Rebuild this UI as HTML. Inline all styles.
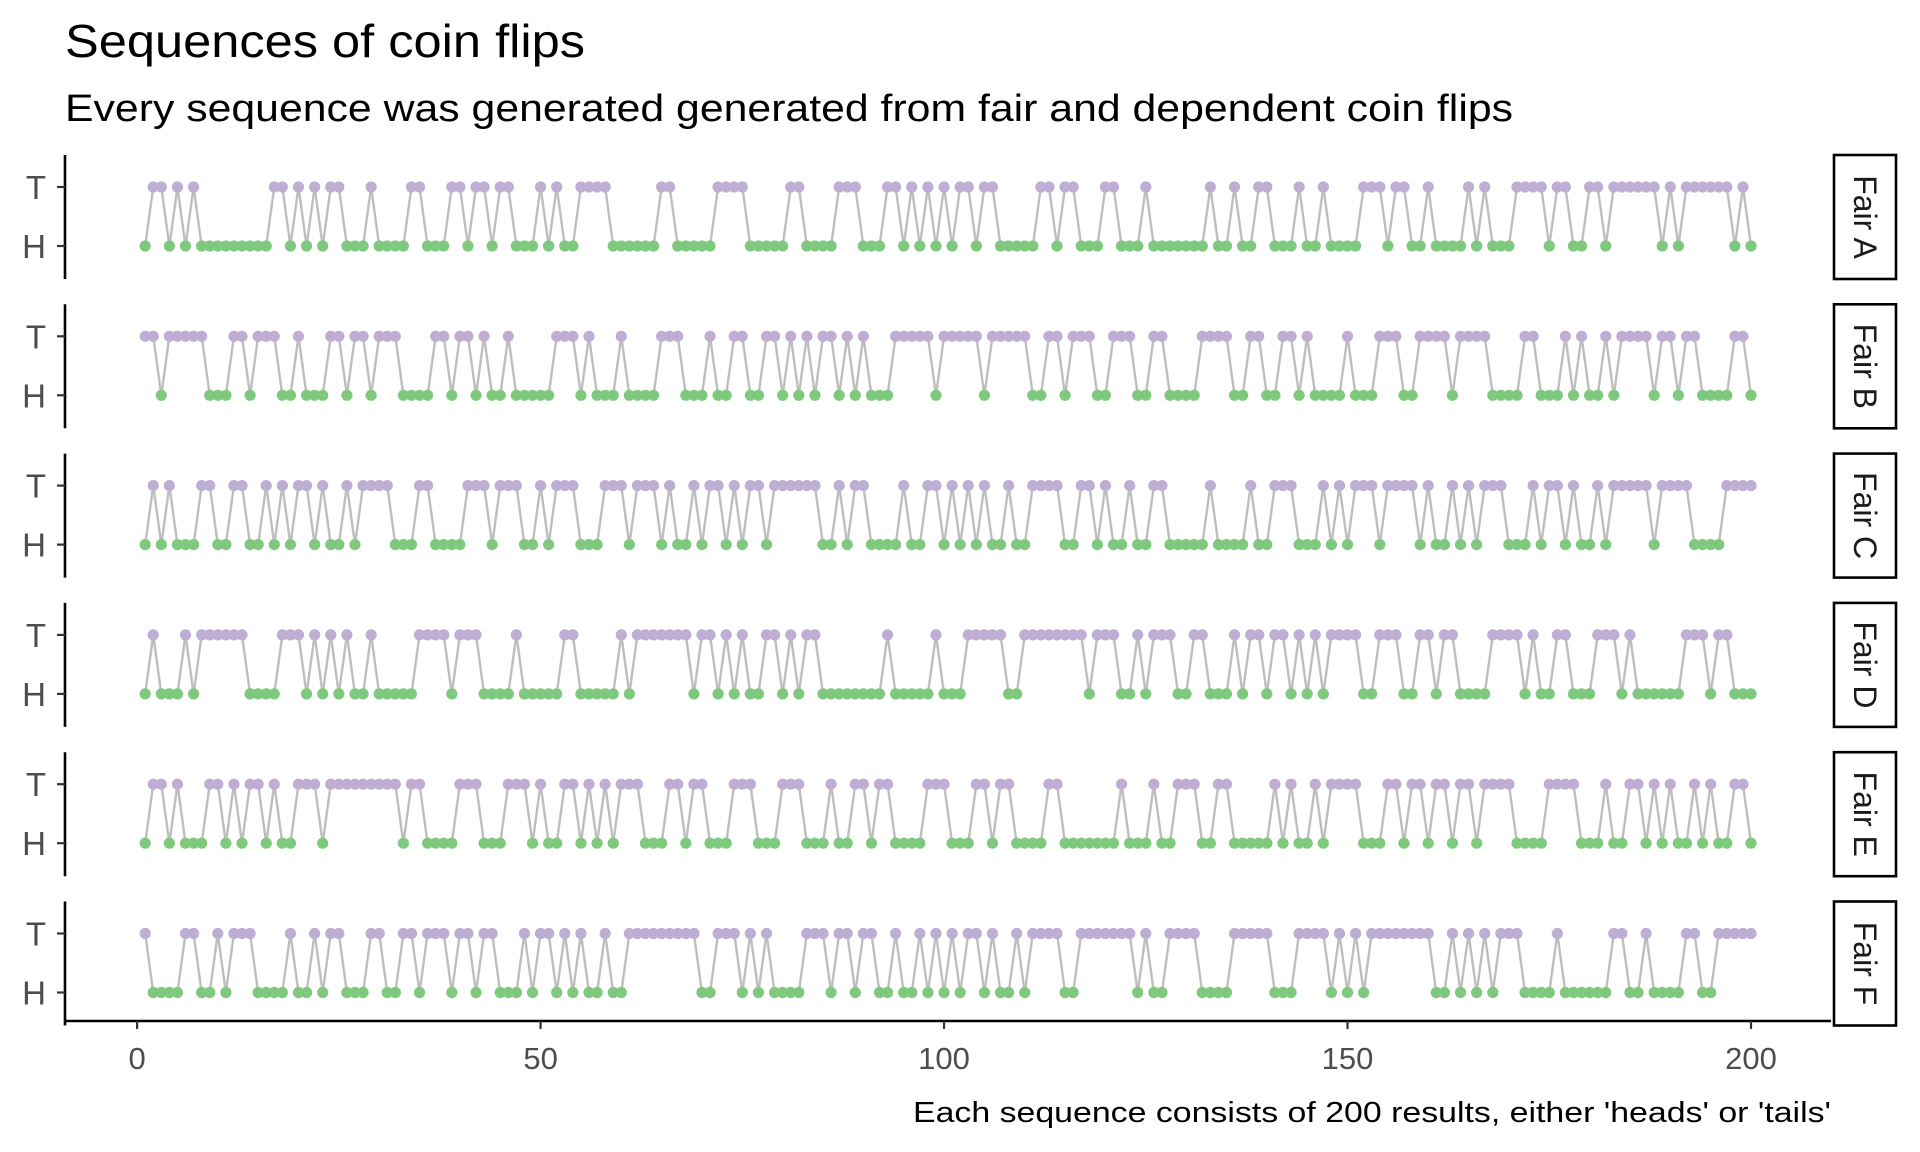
<!DOCTYPE html>
<html><head><meta charset="utf-8">
<style>
html,body{margin:0;padding:0;background:#fff;}
svg{display:block;font-family:"Liberation Sans",Arial,sans-serif;}
</style></head>
<body>
<svg id="chart" width="1920" height="1152" viewBox="0 0 1920 1152" xmlns="http://www.w3.org/2000/svg">
<rect width="1920" height="1152" fill="#fff"/>
<text x="65" y="57" font-size="46" fill="#000" textLength="520" lengthAdjust="spacingAndGlyphs">Sequences of coin flips</text>
<text x="65" y="121" font-size="38" fill="#000" textLength="1448" lengthAdjust="spacingAndGlyphs">Every sequence was generated generated from fair and dependent coin flips</text>
<text x="1831" y="1122" font-size="29" fill="#000" text-anchor="end" textLength="918" lengthAdjust="spacingAndGlyphs">Each sequence consists of 200 results, either 'heads' or 'tails'</text>
<g id="panels"></g>
<g id="xaxis"></g>
</svg>
<script>
const panelNames = ["Fair A","Fair B","Fair C","Fair D","Fair E","Fair F"];
const yCategories = ["H","T"];
const xTickValues = [0,50,100,150,200];
const xTickLabels = ["0","50","100","150","200"];
const fairA = ("HTTHTHTHHH"+"HHHHHHTTHT"+"HTHTTHHHTH"+"HHHTTHHHTT"+"HTTHTTHHHT"+"HTHHTTTTHH"+"HHHHTTHHHH"+"HTTTTHHHHH"+"TTHHHHTTTH"+"HHTTHTHTHT"+
  "HTTHTTHHHH"+"HTTHTTHHHT"+"THHHTHHHHH"+"HHTHHTHHTT"+"HHHTHHTHHH"+"HTTTHTTHHT"+"HHHHTHTHHH"+"TTTTHTTHHT"+"THTTTTTTHT"+"HTTTTTTHTH").split("");
const fairB = ("TTHTTTTTHH"+"HTTHTTTHHT"+"HHHTTHTTHT"+"TTHHHHTTHT"+"THTHHTHHHH"+"HTTTHTHHHT"+"HHHHTTTHHH"+"THHTTHHTTH"+"THTHTTHTHT"+"HHHTTTTTHT"+
  "TTTTHTTTTT"+"HHTTHTTTHH"+"TTTHHTTHHH"+"HTTTTHHTTH"+"HTTHTHHHHT"+"HHHTTTHHTT"+"TTHTTTTHHH"+"HTTHHHTHTH"+"HTHTTTTHTT"+"HTTHHHHTTH").split("");
const fairC = ("HTHTHHHTTH"+"HTTHHTHTHT"+"THTHHTHTTT"+"THHHTTHHHH"+"TTTHTTTHHT"+"HTTTHHHTTT"+"HTTTHTHHTH"+"TTHTHTTHTT"+"TTTTHHTHTT"+"HHHHTHHTTH"+
  "THTHTHHTHH"+"TTTTHHTTHT"+"HHTHHTTHHH"+"HHTHHHHTHH"+"TTTHHHTHTH"+"TTTHTTTTHT"+"HHTHTHTTTH"+"HHTHTTHTHH"+"THTTTTTHTT"+"TTHHHHTTTT").split("");
const fairD = ("HTHHHTHTTT"+"TTTHHHHTTT"+"HTHTHTHHTH"+"HHHHTTTTHT"+"TTHHHHTHHH"+"HHTTHHHHHT"+"HTTTTTTTHT"+"THTHTHHTTH"+"THTTHHHHHH"+"HHTHHHHHTH"+
  "HHTTTTTHHT"+"TTTTTTTHTT"+"THHTHTTTHH"+"TTHHHTHTTH"+"TTHTHTHTTT"+"THHTTTHHTT"+"HTTHHHHTTT"+"THTHHTTHHH"+"TTTHTHHHHH"+"HTTTHTTHHH").split("");
const fairE = ("HTTHTHHHTT"+"HTHTTHTHHT"+"TTHTTTTTTT"+"TTHTTHHHHT"+"TTHHHTTTHT"+"HHTTHTHTHT"+"TTHHHTTHTT"+"HHHTTTHHHT"+"TTHHHTHHTT"+"HTTHHHHTTT"+
  "HHHTTHTTHH"+"HHTTHHHHHH"+"HTHHHTHHTT"+"THHTTHHHHH"+"THTHHTHTTT"+"THHHTTHTTH"+"TTHTTHTTTT"+"HHHHTTTTHH"+"HTHHTTHTHT"+"HHTHTHHTTH").split("");
const fairF = ("THHHHTTHHT"+"HTTTHHHHTH"+"HTHTTHHHTT"+"HHTTHTTTHT"+"THTTHHHTHT"+"THTHTHHTHH"+"TTTTTTTTTH"+"HTTTHTHTHH"+"HHTTTHTTHT"+"THHTHHTHTH"+
  "THTTHTHHTH"+"TTTTHHTTTT"+"TTTHTHHTTT"+"THHHHTTTTT"+"HHHTTTTHTH"+"THTTTTTTTT"+"HHTHTHTHTT"+"THHHHTHHHH"+"HHTTHHTHHH"+"HTTHHTTTTT").split("");
const allSeqs = [fairA,fairB,fairC,fairD,fairE,fairF];

const NS = "http://www.w3.org/2000/svg";
const X0 = 137.1, X1 = 1751;
function xScale(v){ return X0 + (X1 - X0) * v / 200; }
const PANEL_TOP = 155, PANEL_STEP = 149.3, T_OFF = 32, H_OFF = 91;
function yScale(panel, cat){ return PANEL_TOP + panel*PANEL_STEP + (cat === "T" ? T_OFF : H_OFF); }
function mk(tag, attrs){ const e = document.createElementNS(NS, tag); for (const k in attrs) e.setAttribute(k, attrs[k]); return e; }

const panelsG = document.getElementById("panels");
allSeqs.forEach(function(seq, p){
  const g = mk("g", {});
  
  
  const top = PANEL_TOP + p*PANEL_STEP, bot = top + 124;
  const ax = mk("line", {x1:65, x2:65, y1:top, y2:bot, stroke:"#000", "stroke-width":2.6});
  
  
  g.appendChild(ax);
  yCategories.forEach(function(c){
    const y = yScale(p, c);
    const t = mk("line", {x1:57, x2:65, y1:y, y2:y, stroke:"#333", "stroke-width":2.2});
    
    
    g.appendChild(t);
    const lb = mk("text", {x:46, y:y+12, "font-size":33, fill:"#4d4d4d", "text-anchor":"end"});
    lb.textContent = c;
    
    
    g.appendChild(lb);
  });
  let d = "";
  seq.forEach(function(v, i){ d += (i ? "L" : "M") + xScale(i+1).toFixed(2) + "," + yScale(p, v).toFixed(2); });
  const path = mk("path", {d:d, fill:"none", stroke:"#bebebe", "stroke-width":2.4, "stroke-linejoin":"round"});
  
  
  g.appendChild(path);
  seq.forEach(function(v, i){
    const c = mk("circle", {cx:xScale(i+1).toFixed(2), cy:yScale(p, v).toFixed(2), r:5.6, fill:(v === "T" ? "#beaed4" : "#7fc97f")});
    
    
    g.appendChild(c);
  });
  const sr = mk("rect", {x:1834, y:top, width:62, height:124, fill:"#fff", stroke:"#000", "stroke-width":2.6});
  
  
  g.appendChild(sr);
  const cy = top + 62;
  const st = mk("text", {x:1865, y:cy, "font-size":32, fill:"#1a1a1a", "text-anchor":"middle", "dominant-baseline":"central", transform:"rotate(90 1865 " + cy + ")"});
  st.textContent = panelNames[p];
  
  
  g.appendChild(st);
  panelsG.appendChild(g);
});

const xg = document.getElementById("xaxis");
const xl = mk("line", {x1:65, x2:1831, y1:1021, y2:1021, stroke:"#000", "stroke-width":2.6});


xg.appendChild(xl);
xTickValues.forEach(function(v, i){
  const x = xScale(v);
  const t = mk("line", {x1:x, x2:x, y1:1021, y2:1029, stroke:"#333", "stroke-width":2.2});
  
  
  xg.appendChild(t);
  const lb = mk("text", {x:x, y:1069, "font-size":31, fill:"#4d4d4d", "text-anchor":"middle"});
  lb.textContent = xTickLabels[i];
  
  
  xg.appendChild(lb);
});
</script>
</body></html>
